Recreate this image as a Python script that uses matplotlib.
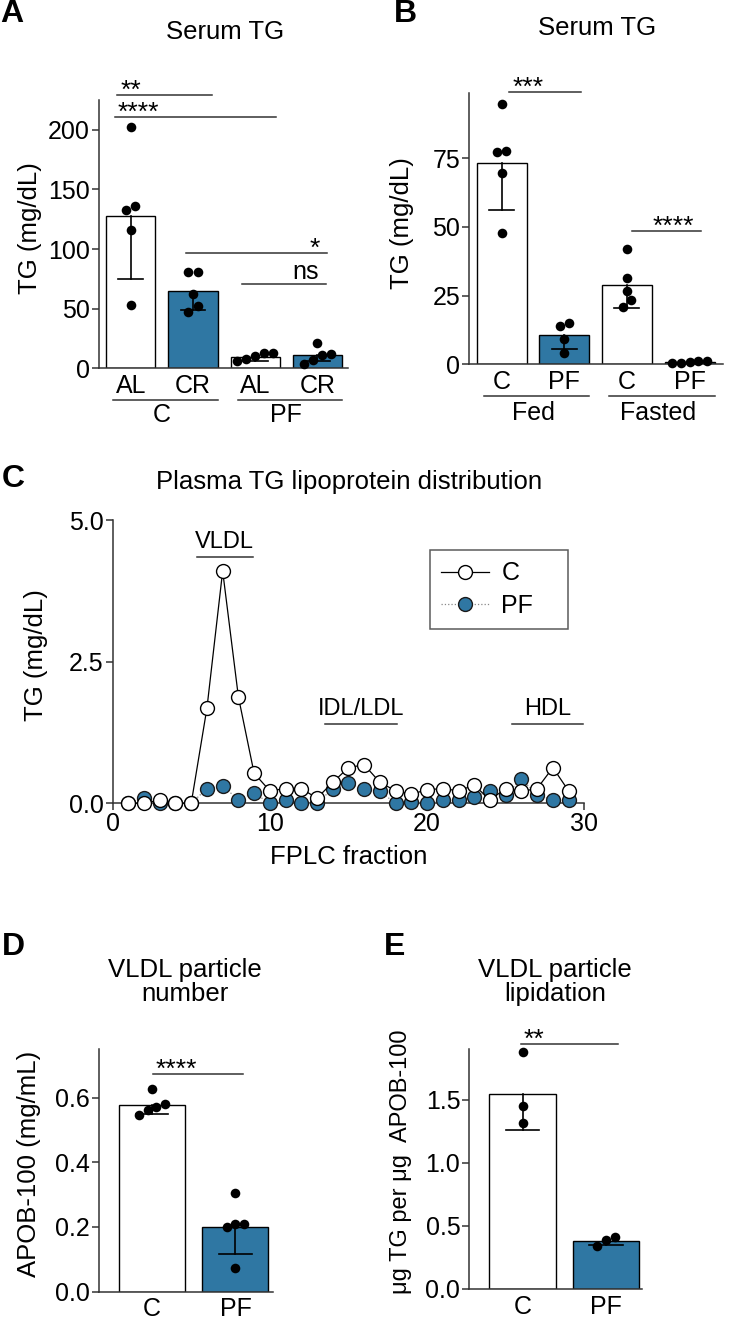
import numpy as np
import matplotlib
matplotlib.use("Agg")
import matplotlib.pyplot as plt
import matplotlib.transforms as mtrans
from matplotlib.ticker import FormatStrFormatter
from matplotlib.lines import Line2D

plt.rcParams['font.family'] = ['Liberation Sans', 'DejaVu Sans']

BLUE = '#2F77A3'
AXC = '#333333'
W, H = 741, 1320
FS_TICK = 18
FS_LAB = 18.5

# ---------------- data ----------------
# A: serum TG, diet groups
A_ticks = ['AL', 'CR', 'AL', 'CR']
A_groups = ['C', 'PF']
A_mean = [128, 65, 9.5, 11]
A_err = [53, 16, 3, 5]
A_pts = [[202, 136, 133, 116, 53],
         [81, 81, 62, 52, 47],
         [13, 13, 10, 8, 6],
         [21, 12, 11, 7, 4]]
A_fill = ['white', BLUE, 'white', BLUE]

# B: serum TG fed / fasted
B_ticks = ['C', 'PF', 'C', 'PF']
B_groups = ['Fed', 'Fasted']
B_mean = [73.3, 10.5, 28.9, 0.9]
B_err = [17, 5, 8.3, 0.3]
B_pts = [[94.6, 77.7, 77.2, 69.5, 47.7],
         [15, 13.8, 9.3, 4],
         [41.9, 31.5, 26.7, 23.4, 20.7],
         [1.3, 1.2, 0.8, 0.6, 0.5]]
B_fill = ['white', BLUE, 'white', BLUE]

# C: FPLC profile
fraction = np.arange(1, 30)
C_tg = [0, 0, 0.06, 0, 0, 1.68, 4.1, 1.88, 0.53, 0.22, 0.26, 0.26, 0.09, 0.37,
        0.63, 0.68, 0.37, 0.22, 0.16, 0.24, 0.26, 0.22, 0.32, 0.06, 0.26, 0.21,
        0.26, 0.63, 0.22]
PF_tg = [0, 0.09, 0, 0, 0, 0.26, 0.31, 0.06, 0.18, 0, 0.06, 0, 0, 0.26, 0.35,
         0.25, 0.21, 0, 0.03, 0, 0.05, 0.05, 0.11, 0.22, 0.15, 0.43, 0.15, 0.06,
         0.06]
C_regions = [('VLDL', 5.37, 8.91, 4.35), ('IDL/LDL', 13.5, 18.1, 1.40),
             ('HDL', 25.4, 29.9, 1.40)]

# D: VLDL particle number
D_ticks = ['C', 'PF']
D_mean = [0.577, 0.199]
D_err = [0.029, 0.083]
D_pts = [[0.625, 0.579, 0.571, 0.563, 0.547],
         [0.304, 0.208, 0.208, 0.199, 0.072]]

# E: VLDL particle lipidation
E_ticks = ['C', 'PF']
E_mean = [1.547, 0.381]
E_err = [0.29, 0.034]
E_pts = [[1.873, 1.452, 1.313],
         [0.413, 0.387, 0.342]]

# significance: text, x0, x1 (bar index), y, alignment
A_sig = [('**', -0.215, 1.30, 229, 'left'), ('****', -0.25, 2.34, 211, 'left'),
         ('*', 0.88, 3.15, 97, 'right'), ('ns', 1.78, 3.14, 70.5, 'right')]
B_sig = [('***', 0.12, 1.27, 98.9, 'left'), ('****', 2.08, 3.18, 48.5, 'right')]
D_sig = [('****', 0.01, 1.09, 0.674, 'left')]
E_sig = [('**', -0.02, 1.14, 1.94, 'left')]


def axes_px(left, top, right, bottom):
    return [left / W, 1 - bottom / H, (right - left) / W, (bottom - top) / H]


def swarm_offsets(ax, vals, diam=9.0):
    vals = np.asarray(vals, float)
    ypx = ax.transData.transform(np.column_stack([np.zeros(len(vals)), vals]))[:, 1]
    xs = ax.transData.transform([[1, 0]])[0, 0] - ax.transData.transform([[0, 0]])[0, 0]
    order = np.argsort(ypx)
    off = np.zeros(len(vals))
    clusters, cur = [], [order[0]]
    for i in order[1:]:
        if ypx[i] - ypx[cur[-1]] < diam:
            cur.append(i)
        else:
            clusters.append(cur)
            cur = [i]
    clusters.append(cur)
    for c in clusters:
        n = len(c)
        for k, i in enumerate(c):
            off[i] = (k - (n - 1) / 2) * diam / xs
    return off


def style_axes(ax):
    for s in ['top', 'right']:
        ax.spines[s].set_visible(False)
    for s in ['left', 'bottom']:
        ax.spines[s].set_color(AXC)
        ax.spines[s].set_linewidth(1.1)
    ax.tick_params(axis='y', length=5, width=1.1, color=AXC, pad=1.5, labelsize=FS_TICK)
    ax.tick_params(axis='x', length=0, pad=4, labelsize=FS_TICK)


def set_ylabel(ax, text, x, y=0.5, fs=FS_LAB):
    ax.set_ylabel(text, fontsize=fs)
    ax.yaxis.set_label_coords(x, y)
    ax.yaxis.label.set_verticalalignment('center')


def bar_panel(ax, means, errs, pts, fills, ticks, ylim, yticks, bw=0.79):
    x = np.arange(len(means))
    ax.set_xlim(-0.52, len(means) - 0.5)
    ax.set_ylim(*ylim)
    ax.bar(x, means, width=bw, color=fills, edgecolor='black', linewidth=1, zorder=2)
    for xi, m, e in zip(x, means, errs):
        ax.plot([xi, xi], [m, m - e], color='black', lw=1.2, zorder=3)
        ax.plot([xi - bw / 4, xi + bw / 4], [m - e, m - e], color='black', lw=1.2, zorder=3)
    for xi, p in zip(x, pts):
        off = swarm_offsets(ax, p)
        ax.scatter(xi + off, p, s=48, color='black', zorder=4, clip_on=False, linewidths=0)
    ax.set_xticks(x)
    ax.set_xticklabels(ticks)
    ax.set_yticks(yticks)
    style_axes(ax)


def add_sig(ax, sigs):
    for txt, x0, x1, y, ha in sigs:
        ax.plot([x0, x1], [y, y], color='#333333', lw=1.1, clip_on=False, zorder=5)
        if ha == 'left':
            xt, dx = x0, 2
        else:
            xt, dx = x1, -5
        if txt == 'ns':
            fs, dy = 18, 3.5
        else:
            fs, dy = 19, -2
        ax.annotate(txt, xy=(xt, y), xytext=(dx, dy), textcoords='offset points',
                    ha=ha, va='baseline', fontsize=fs, annotation_clip=False)


def add_groups(fig, ax, groups, line_dy, text_dy):
    tr = ax.get_xaxis_transform()
    for g, name in enumerate(groups):
        first, last = 2 * g, 2 * g + 1
        ltr = mtrans.offset_copy(tr, fig=fig, x=0, y=-line_dy, units='dots')
        ax.plot([first - 0.28, last + 0.4], [0, 0], color='#333333', lw=1.1,
                transform=ltr, clip_on=False)
        ttr = mtrans.offset_copy(tr, fig=fig, x=0, y=-text_dy, units='dots')
        ax.text((first + last) / 2, 0, name, transform=ttr, ha='center', va='center',
                fontsize=FS_TICK)


fig = plt.figure(figsize=(7.41, 13.2), dpi=100)

# ---------------- A ----------------
axA = fig.add_axes(axes_px(99, 100, 348, 368.3))
bar_panel(axA, A_mean, A_err, A_pts, A_fill, A_ticks, (0, 225), [0, 50, 100, 150, 200])
axA.set_xlim(-0.51, 3.49)
set_ylabel(axA, 'TG (mg/dL)', (30 - 99) / 249, 0.523)
add_sig(axA, A_sig)
add_groups(fig, axA, A_groups, 32, 47)

# ---------------- B ----------------
axB = fig.add_axes(axes_px(469.3, 93.3, 722.7, 364.3))
bar_panel(axB, B_mean, B_err, B_pts, B_fill, B_ticks, (0, 98.6), [0, 25, 50, 75], bw=0.8)
axB.set_xlim(-0.52, 3.53)
set_ylabel(axB, 'TG (mg/dL)', (402 - 469.3) / 253.4, 0.52)
add_sig(axB, B_sig)
add_groups(fig, axB, B_groups, 32, 49)

# ---------------- C ----------------
axC = fig.add_axes(axes_px(112.6, 520, 584.3, 803.3))
axC.plot(fraction, PF_tg, ':', color='#888888', lw=0.9, marker='o', ms=10,
         mfc=BLUE, mec='#1a1a1a', mew=1, clip_on=False, zorder=3, label='PF')
axC.plot(fraction, C_tg, '-', color='black', lw=0.9, marker='o', ms=10,
         mfc='white', mec='black', mew=1, clip_on=False, zorder=4, label='C')
axC.set_xlim(0, 30)
axC.set_ylim(0, 5)
axC.set_xticks([0, 10, 20, 30])
axC.set_yticks([0, 2.5, 5.0])
axC.yaxis.set_major_formatter(FormatStrFormatter('%.1f'))
style_axes(axC)
axC.tick_params(axis='x', length=5, width=1.1, color=AXC, pad=1.5, labelsize=FS_TICK)
set_ylabel(axC, 'TG (mg/dL)', (36 - 112.6) / 471.7, 0.523)
axC.set_xlabel('FPLC fraction', fontsize=FS_LAB)
axC.xaxis.set_label_coords(0.5, -54 / 283.3)
axC.xaxis.label.set_verticalalignment('center')
for name, x0, x1, y in C_regions:
    axC.plot([x0, x1], [y, y], color='#333333', lw=1.1, clip_on=False)
    axC.annotate(name, xy=((x0 + x1) / 2, y), xytext=(0, 3), textcoords='offset points',
                 ha='center', va='bottom', fontsize=17, annotation_clip=False)
handles = [Line2D([], [], color='black', lw=0.9, marker='o', ms=10, mfc='white',
                  mec='black', mew=1),
           Line2D([], [], color='#888888', ls=':', lw=0.9, marker='o', ms=10, mfc=BLUE,
                  mec='#1a1a1a', mew=1)]
leg = axC.legend(handles, ['C', 'PF'], loc='upper left',
                 bbox_to_anchor=(0.673, 0.622, 0.292, 0.272), mode='expand',
                 fontsize=FS_TICK, frameon=True, fancybox=False, edgecolor='#333333',
                 handlelength=1.9, handletextpad=0.5, borderpad=0.45, labelspacing=0.35,
                 borderaxespad=0)
leg.get_frame().set_linewidth(1.1)

# ---------------- D ----------------
axD = fig.add_axes(axes_px(99, 1049, 273, 1291.7))
bar_panel(axD, D_mean, D_err, D_pts, ['white', BLUE], D_ticks, (0, 0.75), [0, 0.2, 0.4, 0.6])
axD.set_xlim(-0.635, 1.45)
axD.yaxis.set_major_formatter(FormatStrFormatter('%.1f'))
set_ylabel(axD, 'APOB-100 (mg/mL)', (29 - 99) / 174, 0.526)
add_sig(axD, D_sig)

# ---------------- E ----------------
axE = fig.add_axes(axes_px(469.3, 1049, 641.7, 1289))
bar_panel(axE, E_mean, E_err, E_pts, ['white', BLUE], E_ticks, (0, 1.9), [0, 0.5, 1.0, 1.5],
          bw=0.8)
axE.set_xlim(-0.64, 1.43)
axE.yaxis.set_major_formatter(FormatStrFormatter('%.1f'))
set_ylabel(axE, '\u03bcg TG per \u03bcg  APOB-100', (401 - 469.3) / 172.4, 0.53, fs=17)
add_sig(axE, E_sig)

# ---------------- titles & panel letters ----------------
def ftext(x, y, s, **kw):
    fig.text(x / W, 1 - y / H, s, **kw)

ftext(225, 31.7, 'Serum TG', ha='center', va='center', fontsize=FS_LAB)
ftext(596.7, 28.3, 'Serum TG', ha='center', va='center', fontsize=FS_LAB)
ftext(349, 482, 'Plasma TG lipoprotein distribution', ha='center', va='center',
      fontsize=FS_LAB)
ftext(185, 982, 'VLDL particle\nnumber', ha='center', va='center', fontsize=FS_LAB,
      linespacing=1.0)
ftext(555, 982, 'VLDL particle\nlipidation', ha='center', va='center', fontsize=FS_LAB,
      linespacing=1.0)
for letter, x, y in [('A', 0, 14), ('B', 394, 14), ('C', 2, 479), ('D', 2, 947), ('E', 384, 947)]:
    ftext(x, y, letter, ha='left', va='center', fontsize=23, fontweight='heavy')

fig.savefig('out.png', dpi=100)
